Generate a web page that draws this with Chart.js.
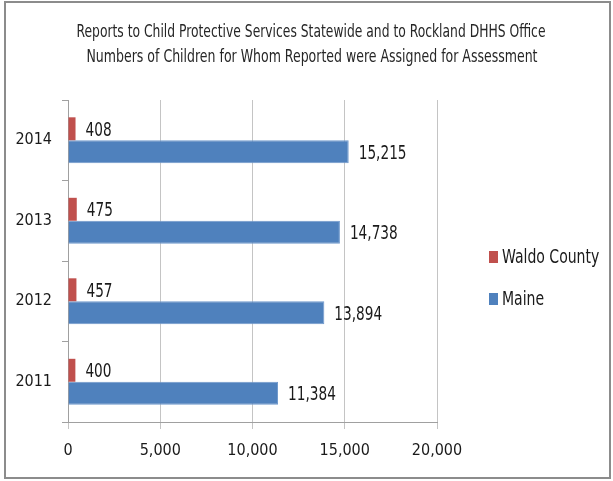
<!DOCTYPE html>
<html>
<head>
<meta charset="utf-8">
<script src="https://cdn.jsdelivr.net/npm/chart.js@4"></script>
<style>
    html, body { margin: 0; padding: 0; background: #fff; }
    canvas { display: block; }
</style>
</head>
<body>
<canvas id="reportChart" width="613" height="481"></canvas>
<script>

const years = ["2014", "2013", "2012", "2011"];
const waldoCounty = [408, 475, 457, 400];
const maine = [15215, 14738, 13894, 11384];
const titleLines = [
    "Reports to Child Protective Services Statewide and to Rockland DHHS Office",
    "Numbers of Children for Whom Reported were Assigned for Assessment"
];

const fontFamily = "'DejaVu Sans Condensed', 'Liberation Sans', sans-serif";
const textColor = "#1a1a1a";

Chart.defaults.font.family = fontFamily;
Chart.defaults.color = textColor;

const fmt = v => Number(v).toLocaleString("en-US");

/* value labels next to each bar */
const barLabels = {
    id: "barLabels",
    afterDatasetsDraw(chart) {
        const ctx = chart.ctx;
        ctx.save();
        ctx.font = "19px " + fontFamily;
        ctx.fillStyle = textColor;
        ctx.textAlign = "left";
        ctx.textBaseline = "middle";
        chart.data.datasets.forEach((ds, i) => {
            chart.getDatasetMeta(i).data.forEach((bar, j) => {
                const txt = fmt(ds.data[j]);
                const w = ctx.measureText(txt).width * 0.8;
                ctx.fillText(txt, bar.x + 10, bar.y + 2, w);
            });
        });
        ctx.restore();
    }
};

/* two-line title, legend on the right, outer frame */
const decorations = {
    id: "decorations",
    afterDraw(chart) {
        const ctx = chart.ctx;
        ctx.save();

        ctx.fillStyle = "#262626";
        ctx.textAlign = "center";
        ctx.textBaseline = "middle";
        ctx.font = "17px " + fontFamily;
        ctx.fillText(titleLines[0], 311, 33, 469);
        ctx.fillText(titleLines[1], 312, 58, 451);

        ctx.font = "20px " + fontFamily;
        ctx.textAlign = "left";
        chart.data.datasets.forEach((ds, i) => {
            const y = 257 + i * 42;
            ctx.fillStyle = ds.backgroundColor;
            ctx.fillRect(489, y - 6, 9, 12);
            ctx.fillStyle = textColor;
            const w = ctx.measureText(ds.label).width * 0.78;
            ctx.fillText(ds.label, 502, y + 1, w);
        });

        ctx.strokeStyle = "#8c8c8c";
        ctx.lineWidth = 2;
        ctx.strokeRect(5, 2, 605, 476);
        ctx.restore();
    }
};

new Chart(document.getElementById("reportChart"), {
    type: "bar",
    data: {
        labels: years,
        datasets: [{
            label: "Waldo County",
            data: waldoCounty,
            backgroundColor: "#c0504d",
            categoryPercentage: 0.57,
            barPercentage: 1
        }, {
            label: "Maine",
            data: maine,
            backgroundColor: "#4f81bd",
            borderColor: "#6f98cc",
            borderWidth: 1,
            categoryPercentage: 0.57,
            barPercentage: 1
        }]
    },
    options: {
        indexAxis: "y",
        responsive: false,
        animation: false,
        layout: {
            padding: { left: 8, right: 176, top: 100, bottom: 0 }
        },
        scales: {
            x: {
                min: 0,
                max: 20000,
                ticks: {
                    stepSize: 5000,
                    callback: v => fmt(v),
                    font: { size: 16 },
                    color: textColor,
                    padding: 12,
                    maxRotation: 0
                },
                grid: {
                    color: "#c4c4c4",
                    tickLength: 7
                },
                border: { color: "#a0a0a0" },
                afterFit(scale) { scale.height = 59; }
            },
            y: {
                ticks: {
                    font: { size: 16 },
                    color: textColor,
                    padding: 10
                },
                grid: {
                    drawOnChartArea: false,
                    color: "#a0a0a0",
                    tickLength: 6
                },
                border: { color: "#a0a0a0" },
                afterFit(scale) { scale.width = 60; }
            }
        },
        plugins: {
            legend: { display: false },
            tooltip: { enabled: false },
            title: { display: false }
        }
    },
    plugins: [barLabels, decorations]
});

</script>
</body>
</html>
